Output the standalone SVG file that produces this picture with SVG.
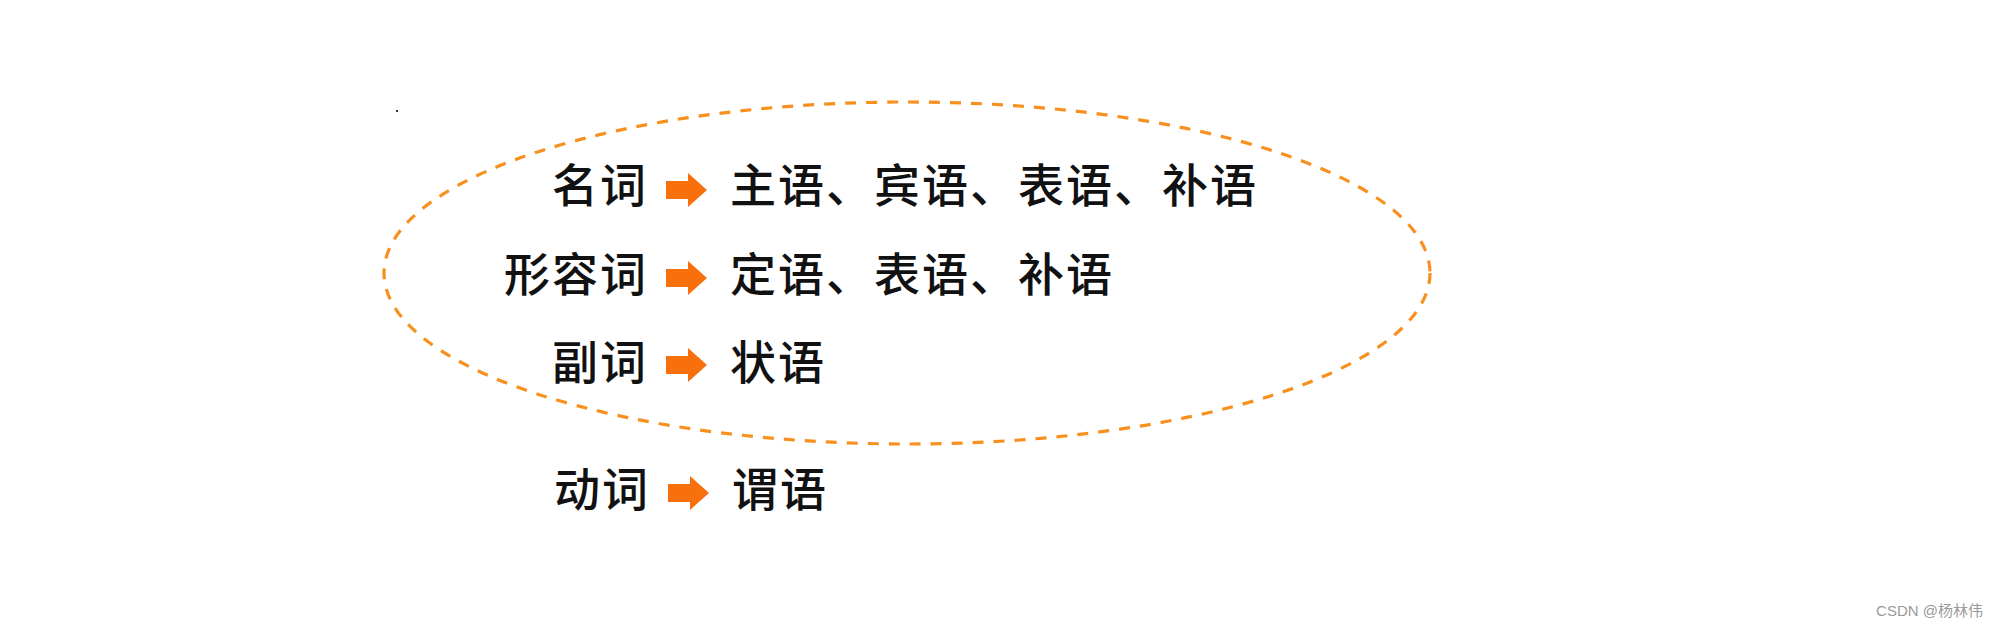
<svg xmlns="http://www.w3.org/2000/svg" width="2000" height="626" viewBox="0 0 2000 626">
<defs>
<style>
.t{font-family:"Noto Sans CJK SC","Noto Sans CJK JP",sans-serif;font-size:46px;font-weight:500;letter-spacing:2px;fill:#111;}
.l{text-anchor:end;}
.arr{fill:#f7700c;}
.wm{font-family:"Liberation Sans","Noto Sans CJK SC",sans-serif;font-size:15px;fill:#9a9a9a;}
</style>
<path id="arrow" d="M0,-9 H22 V-17 L41,0 L22,17 V9 H0 Z"/>
</defs>
<rect width="2000" height="626" fill="#fff"/>
<rect x="396" y="110" width="2" height="2" fill="#333"/>
<g id="connectors">
<ellipse cx="907" cy="273" rx="523" ry="171" fill="none" stroke="#f7901e" stroke-width="3.2" stroke-dasharray="11 10"/>
</g>
<g id="row-noun">
<text class="t l" x="648" y="202">名词</text>
<use href="#arrow" class="arr" x="666" y="190"/>
<text class="t" x="730" y="202">主语、宾语、表语、补语</text>
</g>
<g id="row-adj">
<text class="t l" x="648" y="291">形容词</text>
<use href="#arrow" class="arr" x="666" y="278"/>
<text class="t" x="730" y="291">定语、表语、补语</text>
</g>
<g id="row-adv">
<text class="t l" x="648" y="379">副词</text>
<use href="#arrow" class="arr" x="666" y="365"/>
<text class="t" x="730" y="379">状语</text>
</g>
<g id="row-verb">
<text class="t l" x="650" y="506">动词</text>
<use href="#arrow" class="arr" x="668" y="493"/>
<text class="t" x="732" y="506">谓语</text>
</g>
<text class="wm" x="1983" y="616" text-anchor="end">CSDN @杨林伟</text>
</svg>
